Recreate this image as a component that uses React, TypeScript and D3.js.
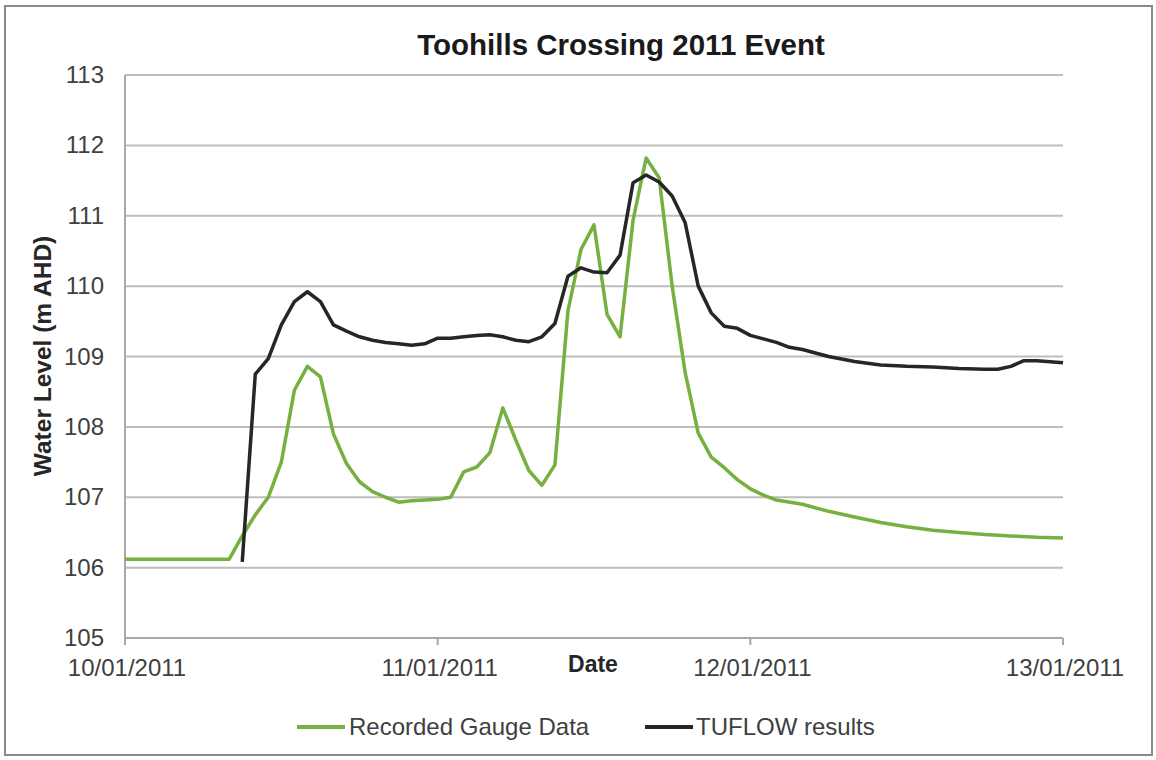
import React from "react";
import * as d3 from "d3";

const title = "Toohills Crossing 2011 Event";
const yAxisTitle = "Water Level  (m AHD)";
const xAxisTitle = "Date";
const startDate = new Date(Date.UTC(2011, 0, 10));
const xTickHours = [0, 24, 48, 72];
const xTickLabels = ["10/01/2011", "11/01/2011", "12/01/2011", "13/01/2011"];
const yTicks = [105, 106, 107, 108, 109, 110, 111, 112, 113];
const seriesNames = ["Recorded Gauge Data", "TUFLOW results"];
const seriesColors = ["#76b041", "#262626"];

// Recorded gauge data: hours since 10/01/2011 00:00 and water level (m AHD)
const gaugeHours = [0, 8, 9, 10, 11, 12, 13, 14, 15, 16, 17, 18, 19, 20, 21, 22, 23, 24, 25, 26, 27, 28, 29, 30, 31, 32, 33, 34, 35, 36, 37, 38, 39, 40, 41, 42, 43, 44, 45, 46, 47, 48, 49, 50, 52, 54, 56, 58, 60, 62, 64, 66, 68, 70, 72];
const gaugeLevel = [106.12, 106.12, 106.45, 106.75, 107.0, 107.5, 108.52, 108.86, 108.71, 107.9, 107.48, 107.22, 107.08, 107.0, 106.93, 106.95, 106.96, 106.97, 107.0, 107.36, 107.43, 107.63, 108.27, 107.81, 107.38, 107.17, 107.46, 109.65, 110.52, 110.87, 109.6, 109.28, 110.94, 111.82, 111.54, 110.0, 108.77, 107.91, 107.57, 107.42, 107.25, 107.12, 107.03, 106.96, 106.9, 106.8, 106.72, 106.64, 106.58, 106.53, 106.5, 106.47, 106.45, 106.43, 106.42];

// TUFLOW results
const tuflowHours = [9, 10, 11, 12, 13, 14, 15, 16, 17, 18, 19, 20, 21, 22, 23, 24, 25, 26, 27, 28, 29, 30, 31, 32, 33, 34, 35, 36, 37, 38, 39, 40, 41, 42, 43, 44, 45, 46, 47, 48, 49, 50, 51, 52, 54, 56, 58, 60, 62, 64, 66, 67, 68, 69, 70, 72];
const tuflowLevel = [106.08, 108.75, 108.97, 109.45, 109.78, 109.92, 109.78, 109.45, 109.36, 109.28, 109.23, 109.2, 109.18, 109.16, 109.18, 109.26, 109.26, 109.28, 109.3, 109.31, 109.28, 109.23, 109.21, 109.28, 109.47, 110.14, 110.26, 110.2, 110.19, 110.44, 111.47, 111.58, 111.48, 111.28, 110.9, 110.0, 109.62, 109.43, 109.4, 109.3, 109.25, 109.2, 109.13, 109.1, 109.0, 108.93, 108.88, 108.86, 108.85, 108.83, 108.82, 108.82, 108.86, 108.94, 108.94, 108.91];

const W = 1156;
const H = 760;
const plot = { left: 125, right: 1063, top: 75, bottom: 638 };
const FONT = "'Liberation Sans', Arial, sans-serif";

export default function App() {
  const x = d3
    .scaleUtc()
    .domain([startDate, d3.utcHour.offset(startDate, 72)])
    .range([plot.left, plot.right]);
  const y = d3.scaleLinear().domain([105, 113]).range([plot.bottom, plot.top]);

  const line = d3
    .line<[number, number]>()
    .x((d) => x(d3.utcHour.offset(startDate, d[0])))
    .y((d) => y(d[1]));

  const gauge: [number, number][] = gaugeHours.map((h, i) => [h, gaugeLevel[i]]);
  const tuflow: [number, number][] = tuflowHours.map((h, i) => [h, tuflowLevel[i]]);

  const legendItems = [
    { lineX: 297, textX: 349 },
    { lineX: 645, textX: 696 },
  ];

  return (
    <svg width={W} height={H} style={{ position: "absolute", left: 0, top: 0, display: "block" }}>
      <rect x={0} y={0} width={W} height={H} fill="#ffffff" />
      <rect x={5} y={6} width={1147} height={749} fill="#ffffff" stroke="#8a8a8a" strokeWidth={2} />
      <text x={621} y={55} textAnchor="middle" fontFamily={FONT} fontWeight="bold" fontSize={29.5} fill="#1a1a1a">
        {title}
      </text>
      {yTicks.map((t) => (
        <g key={t}>
          <line x1={plot.left} x2={plot.right} y1={y(t)} y2={y(t)} stroke="#bdbdbd" strokeWidth={2} />
          <text x={104} y={y(t) + 8} textAnchor="end" fontFamily={FONT} fontSize={24} fill="#404040">
            {t}
          </text>
        </g>
      ))}
      <line x1={plot.left} x2={plot.left} y1={plot.top} y2={plot.bottom} stroke="#a8a8a8" strokeWidth={2} />
      <line x1={plot.left} x2={plot.right} y1={plot.bottom} y2={plot.bottom} stroke="#a8a8a8" strokeWidth={2} />
      {xTickHours.map((h, i) => {
        const px = x(d3.utcHour.offset(startDate, h));
        return (
          <g key={h}>
            <line x1={px} x2={px} y1={plot.bottom} y2={plot.bottom + 7} stroke="#a8a8a8" strokeWidth={2} />
            <text x={px + 2} y={676} textAnchor="middle" fontFamily={FONT} fontSize={24} fill="#404040">
              {xTickLabels[i]}
            </text>
          </g>
        );
      })}
      <text x={593} y={672} textAnchor="middle" fontFamily={FONT} fontWeight="bold" fontSize={23} fill="#262626">
        {xAxisTitle}
      </text>
      <text
        transform={`translate(51, 356) rotate(-90)`}
        textAnchor="middle"
        fontFamily={FONT}
        fontWeight="bold"
        fontSize={24.5}
        fill="#262626"
      >
        {yAxisTitle}
      </text>
      <path d={line(gauge) ?? ""} fill="none" stroke={seriesColors[0]} strokeWidth={3.5} strokeLinejoin="round" />
      <path d={line(tuflow) ?? ""} fill="none" stroke={seriesColors[1]} strokeWidth={3.5} strokeLinejoin="round" />
      {seriesNames.map((n, i) => (
        <g key={n}>
          <line
            x1={legendItems[i].lineX}
            x2={legendItems[i].lineX + 48}
            y1={727}
            y2={727}
            stroke={seriesColors[i]}
            strokeWidth={4}
          />
          <text x={legendItems[i].textX} y={735} fontFamily={FONT} fontSize={24} fill="#404040">
            {n}
          </text>
        </g>
      ))}
    </svg>
  );
}
